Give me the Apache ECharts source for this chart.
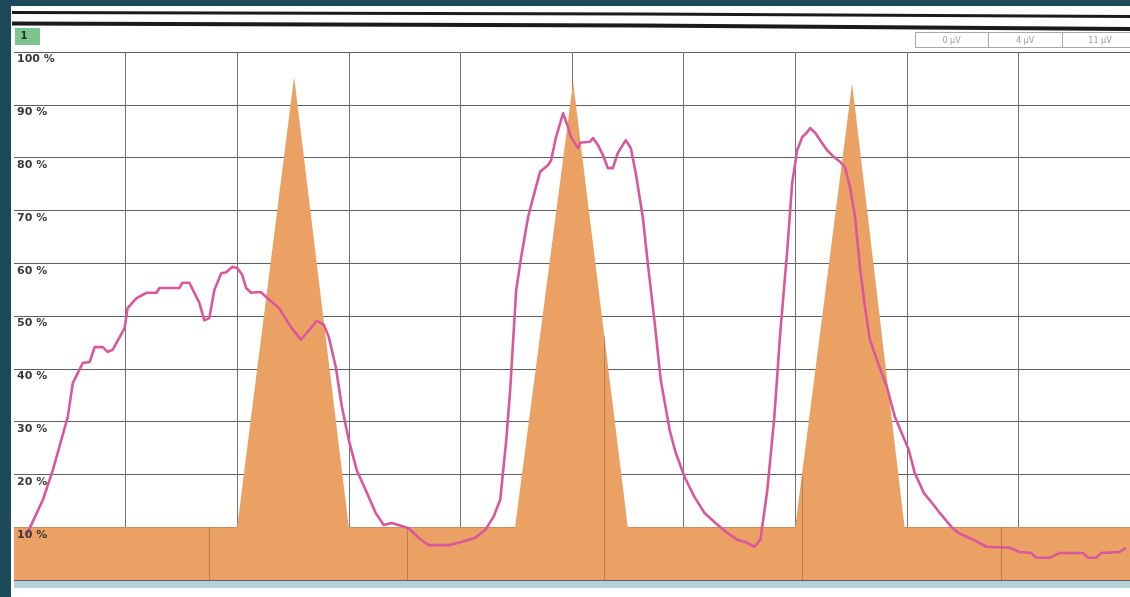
<!DOCTYPE html>
<html>
<head>
<meta charset="utf-8">
<script src="https://cdn.jsdelivr.net/npm/echarts@6/dist/echarts.min.js"></script>
<style>
  html, body { margin: 0; padding: 0; background: #ffffff; }
  #chart { width: 1130px; height: 597px; }
</style>
</head>
<body>
<div id="chart"></div>
<script>
// Response trace (time in grid units, value in %)
const responseCurve = [
  [0.107, 8.5], [0.134, 9.5], [0.259, 15.2], [0.348, 20.8], [0.482, 30.9], [0.527, 37.3],
  [0.616, 41.1], [0.679, 41.3], [0.723, 44.1], [0.795, 44.1], [0.839, 43.2], [0.884, 43.6],
  [0.991, 47.7], [1.018, 51.5], [1.098, 53.4], [1.188, 54.4], [1.277, 54.4], [1.304, 55.3],
  [1.482, 55.3], [1.509, 56.3], [1.571, 56.3], [1.661, 52.5], [1.705, 49.2], [1.750, 49.6],
  [1.795, 54.9], [1.857, 58.1], [1.902, 58.3], [1.955, 59.3], [2.000, 59.1], [2.045, 57.8],
  [2.080, 55.3], [2.125, 54.4], [2.170, 54.5], [2.214, 54.5], [2.259, 53.6], [2.375, 51.5],
  [2.482, 47.9], [2.571, 45.5], [2.643, 47.3], [2.714, 49.1], [2.777, 48.3], [2.821, 46.0],
  [2.884, 40.3], [2.938, 32.8], [3.000, 26.5], [3.071, 20.8], [3.152, 17.0], [3.241, 12.7],
  [3.313, 10.4], [3.384, 10.8], [3.446, 10.4], [3.536, 9.8], [3.625, 8.0], [3.714, 6.6],
  [3.893, 6.6], [4.009, 7.2], [4.134, 8.0], [4.223, 9.5], [4.295, 11.9], [4.357, 15.2],
  [4.411, 26.5], [4.446, 36.0], [4.473, 45.5], [4.500, 54.9], [4.545, 61.2], [4.607, 68.8],
  [4.670, 73.9], [4.714, 77.3], [4.786, 78.6], [4.813, 79.5], [4.857, 83.9], [4.920, 88.4],
  [4.964, 85.8], [4.991, 83.9], [5.054, 81.8], [5.071, 82.8], [5.161, 83.0], [5.188, 83.7],
  [5.232, 82.4], [5.277, 80.5], [5.321, 78.0], [5.366, 78.0], [5.411, 80.9], [5.482, 83.3],
  [5.527, 81.8], [5.571, 77.1], [5.634, 68.8], [5.679, 60.0], [5.741, 48.7], [5.795, 37.9],
  [5.875, 28.4], [5.929, 24.1], [6.009, 19.5], [6.098, 15.7], [6.188, 12.7], [6.286, 10.8],
  [6.393, 8.9], [6.482, 7.6], [6.554, 7.2], [6.634, 6.3], [6.688, 7.6], [6.750, 17.0],
  [6.813, 30.9], [6.866, 46.8], [6.929, 62.5], [6.973, 75.2], [7.018, 81.4], [7.063, 83.9],
  [7.107, 84.8], [7.134, 85.6], [7.179, 84.7], [7.223, 83.3], [7.286, 81.4], [7.348, 80.1],
  [7.402, 79.2], [7.446, 78.2], [7.491, 74.4], [7.536, 68.8], [7.580, 59.3], [7.625, 51.7],
  [7.670, 45.5], [7.732, 41.7], [7.821, 36.6], [7.893, 30.9], [7.955, 27.8], [8.018, 24.6],
  [8.071, 20.3], [8.152, 16.5], [8.241, 14.2], [8.295, 12.7], [8.402, 10.0], [8.464, 8.9],
  [8.598, 7.6], [8.714, 6.3], [8.920, 6.1], [9.009, 5.3], [9.116, 5.1], [9.161, 4.2],
  [9.277, 4.2], [9.366, 5.1], [9.580, 5.1], [9.625, 4.2], [9.696, 4.2], [9.741, 5.1],
  [9.902, 5.3], [9.964, 6.1]
];

// Stimulus profile: baseline with three triangular pulses
const stimulusProfile = [
  [0, 10], [2.0, 10], [2.51, 95.3], [3.0, 10],
  [4.49, 10], [5.01, 94.3], [5.5, 10],
  [7.0, 10], [7.51, 94.1], [7.98, 10], [10, 10]
];

// Positions of the segment seams in the stimulus band
const segmentEdges = [1.75, 3.52, 5.29, 7.06, 8.85];

// Level boxes in the header
const levelLabels = ['0 µV', '4 µV', '11 µV'];

const panelLabel = '1';

function stimulusAt(x) {
  for (let i = 1; i < stimulusProfile.length; i++) {
    const a = stimulusProfile[i - 1], b = stimulusProfile[i];
    if (x >= a[0] && x <= b[0]) {
      return a[1] + (b[1] - a[1]) * (x - a[0]) / (b[0] - a[0]);
    }
  }
  return 10;
}

const chart = echarts.init(document.getElementById('chart'), null, { renderer: 'canvas' });

const boxTop = 32, boxH = 15;
const boxEdges = [915, 988, 1062, 1136];
const levelGraphics = [];
for (let i = 0; i < levelLabels.length; i++) {
  levelGraphics.push({
    type: 'rect', z: 10,
    shape: { x: boxEdges[i] + 0.5, y: boxTop + 0.5, width: boxEdges[i + 1] - boxEdges[i], height: boxH },
    style: { fill: '#ffffff', stroke: '#a8a8a8', lineWidth: 1 }
  });
  levelGraphics.push({
    type: 'text', z: 11,
    x: (boxEdges[i] + Math.min(boxEdges[i + 1], 1130)) / 2 + (i === 2 ? 4 : 0), y: boxTop + boxH / 2 + 1,
    style: {
      text: levelLabels[i], fill: '#9a9a9a', font: '8px "DejaVu Sans"',
      align: 'center', verticalAlign: 'middle'
    }
  });
}

const option = {
  backgroundColor: '#ffffff',
  animation: false,
  grid: { left: 14, top: 52, width: 1120, height: 528, containLabel: false },
  xAxis: {
    type: 'value', min: 0, max: 10, interval: 1,
    axisLine: { show: false }, axisTick: { show: false }, axisLabel: { show: false },
    splitLine: { show: true, showMinLine: false, lineStyle: { color: '#727272', width: 1 } }
  },
  yAxis: [
    {
      type: 'value', min: 0, max: 100, interval: 10,
      axisLine: { show: false }, axisTick: { show: false }, axisLabel: { show: false },
      splitLine: { show: true, lineStyle: { color: '#5f5f5f', width: 1 } }
    },
    {
      type: 'value', min: 0, max: 100, interval: 10, position: 'left', offset: 0, z: 10,
      axisLine: { show: false }, axisTick: { show: false }, splitLine: { show: false },
      axisLabel: {
        inside: true, margin: 3, verticalAlign: 'top', align: 'left',
        color: '#3a3a3a', fontFamily: 'DejaVu Sans', fontWeight: 'bold', fontSize: 11,
        padding: [2, 0, 0, 0],
        formatter: v => (v === 0 ? '' : v + ' %')
      }
    }
  ],
  graphic: [
    // Frame edges
    { type: 'rect', z: 20, shape: { x: 0, y: 0, width: 11, height: 597 }, style: { fill: '#1c4a5a' } },
    { type: 'rect', z: 20, shape: { x: 0, y: 0, width: 1130, height: 6 }, style: { fill: '#1c4a5a' } },
    { type: 'rect', z: 5, shape: { x: 14, y: 581, width: 1116, height: 7 }, style: { fill: '#b7d1dc' } },
    // Header rules
    { type: 'polyline', z: 10, shape: { points: [[12, 12.5], [640, 14], [1130, 16.5]] },
      style: { stroke: '#1b1b1b', lineWidth: 3, fill: null } },
    { type: 'polyline', z: 10, shape: { points: [[12, 23.5], [640, 25.5], [1130, 29]] },
      style: { stroke: '#1b1b1b', lineWidth: 4, fill: null } },
    // Panel number tag
    { type: 'rect', z: 10, shape: { x: 15, y: 28, width: 25, height: 17 }, style: { fill: '#7cc58e' } },
    { type: 'text', z: 11, x: 24, y: 36.5,
      style: { text: panelLabel, fill: '#1f3326', font: 'bold 10px "DejaVu Sans"', align: 'center', verticalAlign: 'middle' } }
  ].concat(levelGraphics),
  series: [
    {
      name: 'stimulus', type: 'line', data: stimulusProfile, z: 2,
      showSymbol: false, symbol: 'none', silent: true,
      lineStyle: { width: 0 },
      areaStyle: { color: '#eaa163', opacity: 1 },
      markLine: {
        silent: true, symbol: 'none', label: { show: false },
        lineStyle: { color: 'rgba(110,90,70,0.45)', width: 1, type: 'solid' },
        data: segmentEdges.map(x => [{ coord: [x, 0] }, { coord: [x, stimulusAt(x)] }])
      }
    },
    {
      name: 'response', type: 'line', data: responseCurve, z: 3,
      showSymbol: false, symbol: 'none', silent: true,
      lineStyle: { color: '#d9579b', width: 2.6, join: 'round' }
    }
  ]
};

chart.setOption(option);
</script>
</body>
</html>
